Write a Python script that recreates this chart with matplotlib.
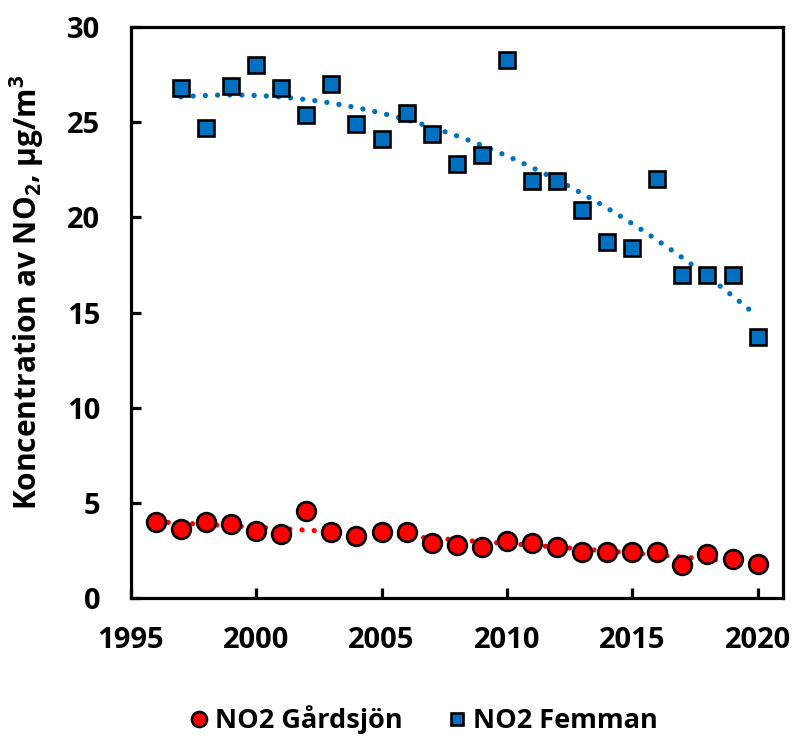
import matplotlib
matplotlib.use("Agg")
import matplotlib.pyplot as plt
import numpy as np

# yearly NO2 means
years_gardsjon = list(range(1996, 2021))
no2_gardsjon = [4.0, 3.63, 4.0, 3.89, 3.52, 3.35, 4.56, 3.45, 3.27, 3.47,
                3.45, 2.87, 2.79, 2.70, 3.0, 2.87, 2.70, 2.43, 2.43, 2.43,
                2.43, 1.73, 2.31, 2.05, 1.79]

years_femman = list(range(1997, 2021))
no2_femman = [26.8, 24.7, 26.9, 28.0, 26.8, 25.4, 27.0, 24.9, 24.1, 25.5,
              24.4, 22.8, 23.3, 28.3, 21.9, 21.9, 20.4, 18.7, 18.4, 22.0,
              17.0, 17.0, 17.0, 13.7]

x_ticks = [1995, 2000, 2005, 2010, 2015, 2020]
y_ticks = [0, 5, 10, 15, 20, 25, 30]

RED = "#FF0000"
BLUE = "#0070C0"

plt.rcParams['font.family'] = ['Open Sans', 'DejaVu Sans']
plt.rcParams['font.weight'] = 'bold'
plt.rcParams['mathtext.fontset'] = 'custom'
plt.rcParams['mathtext.rm'] = 'Open Sans:bold'
plt.rcParams['mathtext.bf'] = 'Open Sans:bold'


def trend(x, y, deg=2):
    c = np.polyfit(x, y, deg)
    xs = np.linspace(min(x), max(x), 200)
    return xs, np.polyval(c, xs)


fig = plt.figure(figsize=(7.93, 7.36), dpi=100)
ax = fig.add_axes([0.165, 0.1875, 0.822, 0.7755])

dots = dict(lw=3.8, linestyle=(0, (0.01, 2.3)), dash_capstyle='round', zorder=2)
xs, ys = trend(years_gardsjon, no2_gardsjon)
ax.plot(xs, ys, color=RED, **dots)
xs, ys = trend(years_femman, no2_femman)
ax.plot(xs, ys, color=BLUE, **dots)

ax.plot(years_gardsjon, no2_gardsjon, 'o', ms=13.5, mfc=RED, mec='black', mew=1.9,
        label='NO2 Gårdsjön', zorder=3)
ax.plot(years_femman, no2_femman, 's', ms=11.5, mfc=BLUE, mec='black', mew=1.9,
        label='NO2 Femman', zorder=3)

ax.set_xlim(1995, 2021)
ax.set_ylim(0, 30)
ax.set_xticks(x_ticks)
ax.set_yticks(y_ticks)
for s in ax.spines.values():
    s.set_linewidth(2.3)
ax.tick_params(direction='in', length=7, width=2.3, labelsize=21)
ax.tick_params(axis='y', pad=22)
ax.tick_params(axis='x', pad=20)

ax.set_ylabel(r"Koncentration av NO$_{\mathbf{2}}$, µg/m$^{\mathbf{3}}$",
              fontsize=21.5, fontweight='bold')
ax.yaxis.set_label_coords(-0.13, 0.535)

handles, labels = ax.get_legend_handles_labels()
leg = fig.legend(handles, labels, loc='center', bbox_to_anchor=(0.532, 0.022),
                 ncol=2, frameon=False, fontsize=19.5, handletextpad=0.1,
                 columnspacing=1.5, markerscale=0.8, handlelength=1.0)

fig.savefig("out.png", dpi=100)
